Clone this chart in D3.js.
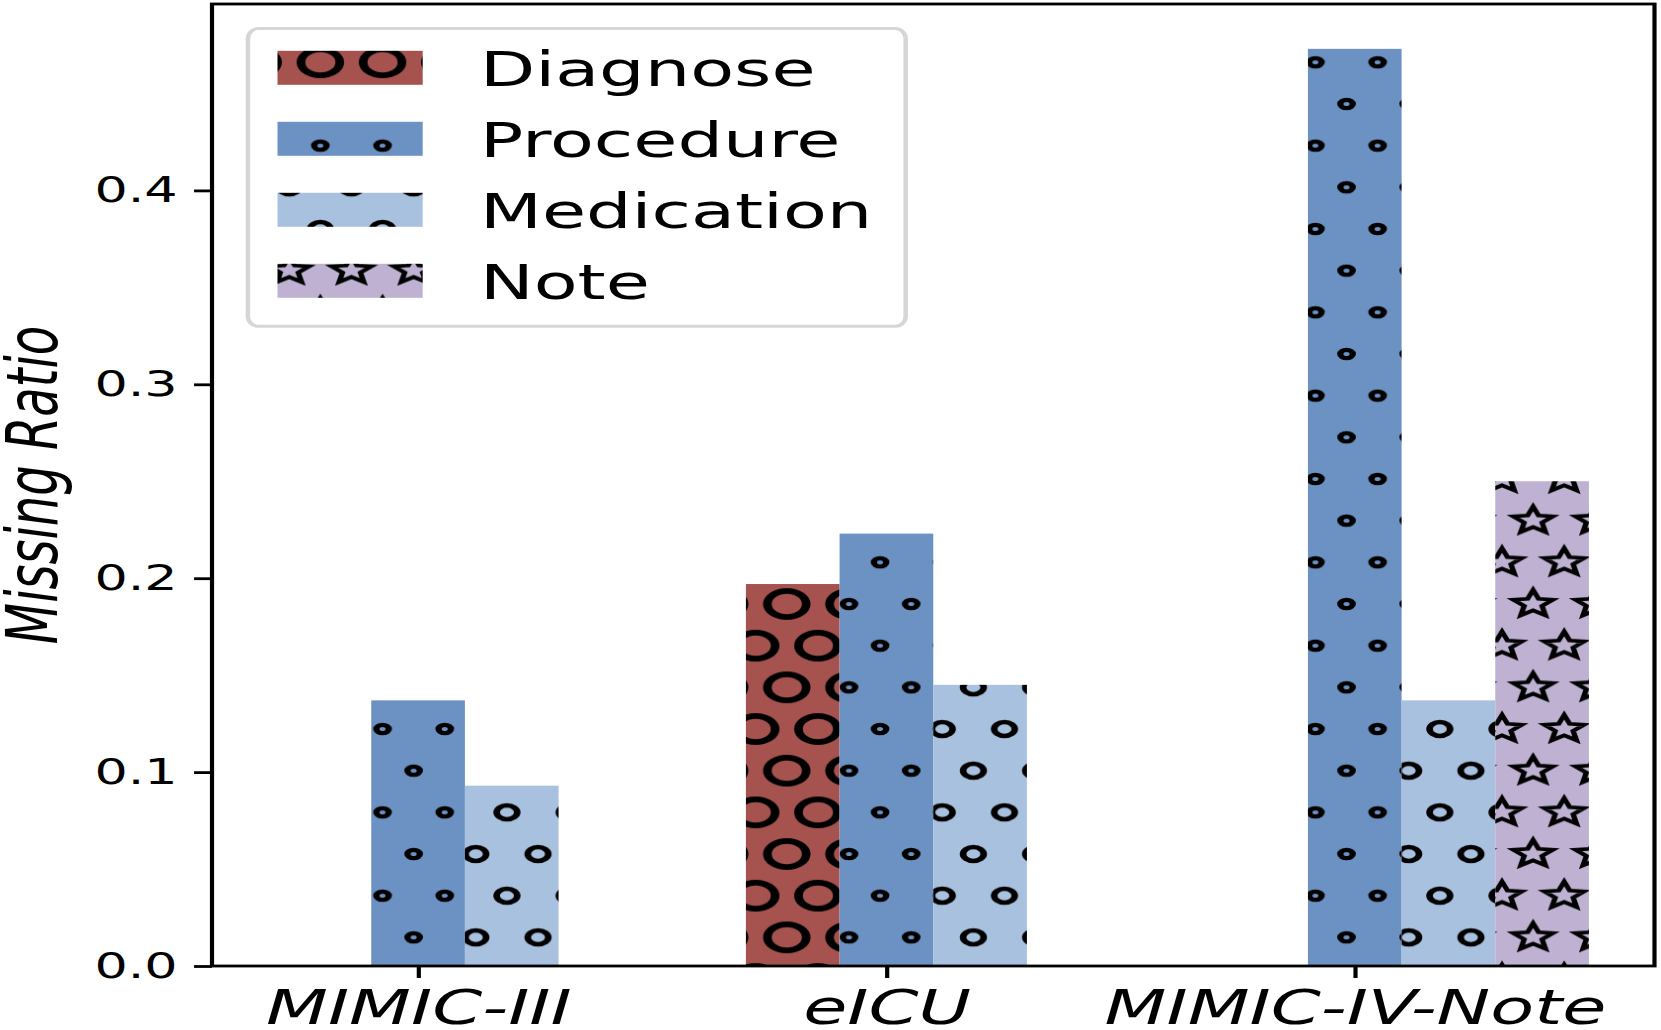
<!DOCTYPE html>
<html>
<head>
<meta charset="utf-8">
<script src="https://cdn.jsdelivr.net/npm/d3@7"></script>
<style>
  body { margin: 0; background: #fff; }
  svg { display: block; font-family: "DejaVu Sans", sans-serif; }
</style>
</head>
<body>
<script>
// data
const categories = ["MIMIC-III", "eICU", "MIMIC-IV-Note"];
const seriesNames = ["Diagnose", "Procedure", "Medication", "Note"];
const diagnose = [0, 0.197, 0];
const procedure = [0.137, 0.223, 0.473];
const medication = [0.093, 0.145, 0.137];
const note = [0, 0, 0.25];
const yTicks = [0, 0.1, 0.2, 0.3, 0.4];

const seriesValues = [diagnose, procedure, medication, note];
const colors = ["#a65350", "#6c91c3", "#a8c1df", "#bfb1d2"];

const width = 1661,
  height = 1030;
// the original figure is widened horizontally, so draw in a squeezed space and stretch it
const stretch = 1.495;
const barW = 0.2;

const svg = d3
  .select("body")
  .append("svg")
  .attr("width", width)
  .attr("height", height);

const g = svg.append("g").attr("transform", `scale(${stretch},1)`);

// scales
const x = d3
  .scaleLinear()
  .domain([-0.44, 2.64])
  .range([212 / stretch, 1654.5 / stretch]);

const y = d3
  .scaleLinear()
  .domain([0, d3.max(procedure) * 1.05])
  .range([966, 3]);

// hatch patterns (same lattice for every series, anchored to the page)
const cell = 41.6,
  rowH = 41.67;
const defs = svg.append("defs");

const starPath = (R, ratio) => {
  const pts = d3.range(10).map((k) => {
    const a = -Math.PI / 2 + (k * Math.PI) / 5;
    const r = k % 2 === 0 ? R : R * ratio;
    return [r * Math.cos(a), r * Math.sin(a)];
  });
  return "M" + pts.map((p) => p.join(",")).join("L") + "Z";
};

const hatches = [
  { type: "circle", r: 13, sw: 5.8 },
  { type: "circle", r: 4.15, sw: 4.2 },
  { type: "circle", r: 6.9, sw: 4.4 },
  { type: "star", r: 14, sw: 3.6 },
];

hatches.forEach((h, si) => {
  const p = defs
    .append("pattern")
    .attr("id", "hatch" + si)
    .attr("patternUnits", "userSpaceOnUse")
    .attr("x", 880.1 / stretch)
    .attr("y", 62.3)
    .attr("width", cell)
    .attr("height", rowH * 2);
  p.append("rect")
    .attr("width", cell)
    .attr("height", rowH * 2)
    .attr("fill", colors[si]);
  const spots = [];
  [-1, 0, 1].forEach((i) =>
    [-1, 0, 1, 2].forEach((j) => {
      spots.push([i * cell, j * rowH * 2]);
      spots.push([i * cell + cell / 2, j * rowH * 2 + rowH]);
    })
  );
  spots.forEach(([cx, cy]) => {
    if (h.type === "circle") {
      p.append("circle")
        .attr("cx", cx)
        .attr("cy", cy)
        .attr("r", h.r)
        .attr("fill", "none")
        .attr("stroke", "#000")
        .attr("stroke-width", h.sw);
    } else {
      p.append("path")
        .attr("d", starPath(h.r, 0.45))
        .attr("transform", `translate(${cx},${cy})`)
        .attr("fill", "none")
        .attr("stroke", "#000")
        .attr("stroke-width", h.sw)
        .attr("stroke-linejoin", "miter");
    }
  });
});

// bars
const offsets = [-1, 0, 1, 2];
seriesValues.forEach((vals, si) => {
  g.append("g")
    .selectAll("rect")
    .data(vals.map((v, i) => ({ v, i })).filter((d) => d.v > 0))
    .enter()
    .append("rect")
    .attr("x", (d) => x(d.i + offsets[si] * barW - barW / 2))
    .attr("width", x(barW) - x(0))
    .attr("y", (d) => y(d.v))
    .attr("height", (d) => y(0) - y(d.v))
    .attr("fill", `url(#hatch${si})`);
});

// axes
const yAxis = d3
  .axisLeft(y)
  .tickValues(yTicks)
  .tickFormat(d3.format(".1f"))
  .tickSize(12)
  .tickPadding(11);

const yG = g
  .append("g")
  .attr("transform", `translate(${212 / stretch},0)`)
  .call(yAxis);

const xAxis = d3
  .axisBottom(x)
  .tickValues([0, 1, 2])
  .tickFormat((i) => categories[i])
  .tickSize(12)
  .tickPadding(12);

const xG = g.append("g").attr("transform", "translate(0,966)").call(xAxis);

[yG, xG].forEach((a) => {
  a.attr("font-family", null).attr("font-size", null);
  a.select(".domain").remove();
  a.selectAll(".tick line").attr("stroke", "#000").attr("stroke-width", 2.8);
  a.selectAll(".tick text").attr("fill", "#000");
});
yG.selectAll(".tick text").style("font-size", "35px");
xG.selectAll(".tick text").style("font-size", "48px").style("font-style", "oblique");

// frame
g.append("rect")
  .attr("x", 212 / stretch)
  .attr("y", 4)
  .attr("width", (1654.5 - 212) / stretch)
  .attr("height", 962)
  .attr("fill", "none")
  .attr("stroke", "#000")
  .attr("stroke-width", 2.8);

// y label
g.append("text")
  .attr("transform", "translate(38.3,485) rotate(-90)")
  .attr("text-anchor", "middle")
  .style("font-size", "48px")
  .style("font-style", "oblique")
  .text("Missing Ratio");

// legend
const legend = g.append("g").attr("id", "legend");
legend
  .append("rect")
  .attr("x", 247.9 / stretch)
  .attr("y", 28.6)
  .attr("width", (905.7 - 247.9) / stretch)
  .attr("height", 297.7)
  .attr("rx", 7)
  .attr("ry", 10)
  .attr("fill", "#fff")
  .attr("stroke", "#d6d6d6")
  .attr("stroke-width", 3);

seriesNames.forEach((name, si) => {
  legend
    .append("rect")
    .attr("x", 277.5 / stretch)
    .attr("y", 50.8 + si * 71)
    .attr("width", 145.2 / stretch)
    .attr("height", 34)
    .attr("fill", `url(#hatch${si})`);
  legend
    .append("text")
    .attr("x", 480 / stretch)
    .attr("y", 85.8 + si * 71)
    .style("font-size", "48px")
    .text(name);
});
</script>
</body>
</html>
